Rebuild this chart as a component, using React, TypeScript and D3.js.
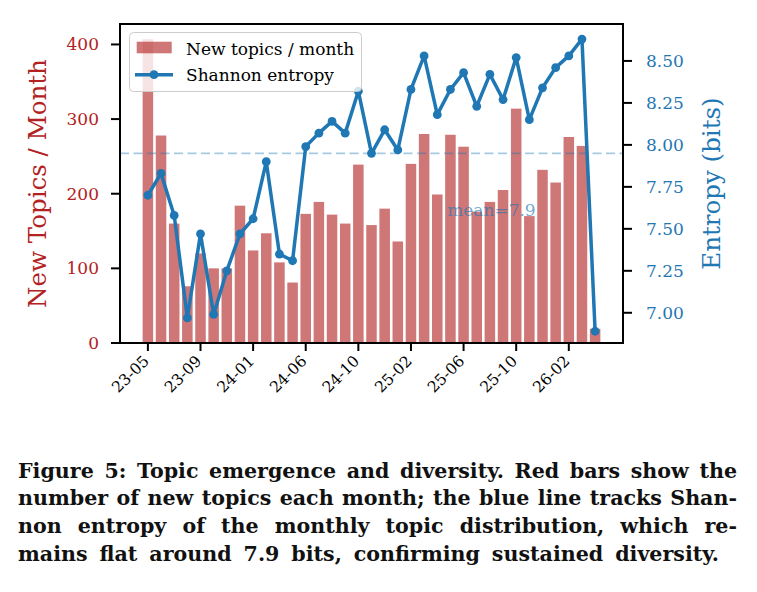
import * as d3 from "d3";
import { useLayoutEffect, useRef, useState } from "react";

// monthly buckets (one month without data between 24-04 and 24-06)
const MONTHS = [
  "23-05", "23-06", "23-07", "23-08", "23-09", "23-10", "23-11", "23-12",
  "24-01", "24-02", "24-03", "24-04", "24-06", "24-07", "24-08", "24-09",
  "24-10", "24-11", "24-12", "25-01", "25-02", "25-03", "25-04", "25-05",
  "25-06", "25-07", "25-08", "25-09", "25-10", "25-11", "25-12", "26-01",
  "26-02", "26-03", "26-04",
];

const NEW_TOPICS = [
  407, 278, 160, 76, 120, 100, 100, 184, 124, 147, 108, 81, 173, 189, 172, 160,
  239, 158, 180, 136, 240, 280, 199, 279, 263, 176, 189, 205, 314, 170, 232, 215,
  276, 264, 19,
];

const ENTROPY = [
  7.7, 7.83, 7.58, 6.97, 7.47, 6.99, 7.25, 7.47, 7.56, 7.9, 7.35, 7.31, 7.99,
  8.07, 8.14, 8.07, 8.32, 7.95, 8.09, 7.97, 8.33, 8.53, 8.18, 8.33, 8.43, 8.23,
  8.42, 8.27, 8.52, 8.15, 8.34, 8.46, 8.53, 8.63, 6.89,
];

const TOPIC_TICKS = [0, 100, 200, 300, 400];
const ENTROPY_TICKS = [7.0, 7.25, 7.5, 7.75, 8.0, 8.25, 8.5];

const CAPTION_LINES = [
  "Figure 5: Topic emergence and diversity. Red bars show the",
  "number of new topics each month; the blue line tracks Shan-",
  "non entropy of the monthly topic distribution, which re-",
  "mains flat around 7.9 bits, confirming sustained diversity.",
];
const CAPTION_WIDTHS = [719, 719, 719, 701];

const W = 757;
const H = 592;
const PLOT = { left: 120, right: 623, top: 24, bottom: 343 };
const RED = "#b22222";
const BLUE = "#1f77b4";
const FONT = "'DejaVu Serif', serif";

function Caption() {
  const refs = useRef<(SVGTextElement | null)[]>([]);
  const [spacing, setSpacing] = useState<number[]>(CAPTION_LINES.map(() => 0));

  useLayoutEffect(() => {
    // stretch word gaps so each line fills its width (justified text)
    const next = CAPTION_LINES.map((line, i) => {
      const el = refs.current[i];
      if (!el) return 0;
      const gaps = line.split(" ").length - 1;
      return gaps > 0 ? (CAPTION_WIDTHS[i] - el.getComputedTextLength()) / gaps : 0;
    });
    setSpacing(next);
  }, []);

  return (
    <g fontFamily={FONT} fontWeight={700} fontSize={20.6} fill="#111">
      {CAPTION_LINES.map((line, i) => (
        <text
          key={i}
          ref={(el) => {
            refs.current[i] = el;
          }}
          x={18}
          y={477.5 + i * 27.7}
          style={{ wordSpacing: `${spacing[i]}px` }}
        >
          {line}
        </text>
      ))}
    </g>
  );
}

export default function App() {
  const x = d3.scaleLinear().domain([-2.12, 36.12]).range([PLOT.left, PLOT.right]);
  const yTopics = d3.scaleLinear().domain([0, 427.4]).range([PLOT.bottom, PLOT.top]);
  const yEntropy = d3.scaleLinear().domain([6.82, 8.72]).range([PLOT.bottom, PLOT.top]);

  const barW = x(0.8) - x(0);
  const meanEntropy = d3.mean(ENTROPY) ?? 0;

  const line = d3
    .line<number>()
    .x((_, i) => x(i))
    .y((d) => yEntropy(d));

  const xTicks = MONTHS.map((m, i) => ({ m, i })).filter(({ i }) => i % 4 === 0);

  return (
    <svg
      width={W}
      height={H}
      style={{ position: "absolute", left: 0, top: 0, background: "#fff" }}
      fontFamily={FONT}
    >
      <rect width={W} height={H} fill="#fff" />

      {/* bars: new topics per month */}
      <g fill={RED} fillOpacity={0.62}>
        {NEW_TOPICS.map((v, i) => (
          <rect
            key={MONTHS[i]}
            x={x(i) - barW / 2}
            y={yTopics(v)}
            width={barW}
            height={yTopics(0) - yTopics(v)}
          />
        ))}
      </g>

      {/* mean entropy reference */}
      <line
        x1={PLOT.left}
        x2={PLOT.right}
        y1={yEntropy(meanEntropy)}
        y2={yEntropy(meanEntropy)}
        stroke={BLUE}
        strokeOpacity={0.4}
        strokeWidth={1.6}
        strokeDasharray="9,4.5"
      />
      <text
        x={x(MONTHS.length * 0.65)}
        y={yEntropy(meanEntropy - 0.37)}
        fontSize={17}
        fill={BLUE}
        fillOpacity={0.65}
      >
        {`mean=${d3.format(".1f")(meanEntropy)}`}
      </text>

      {/* entropy line */}
      <path d={line(ENTROPY) ?? ""} fill="none" stroke={BLUE} strokeWidth={3.5} strokeLinejoin="round" />
      <g fill={BLUE}>
        {ENTROPY.map((v, i) => (
          <circle key={MONTHS[i]} cx={x(i)} cy={yEntropy(v)} r={4.4} />
        ))}
      </g>

      {/* frame */}
      <rect
        x={PLOT.left}
        y={PLOT.top}
        width={PLOT.right - PLOT.left}
        height={PLOT.bottom - PLOT.top}
        fill="none"
        stroke="#000"
        strokeWidth={2}
      />

      {/* left axis */}
      <g>
        {TOPIC_TICKS.map((t) => (
          <g key={t} transform={`translate(0,${yTopics(t)})`}>
            <line x1={PLOT.left - 9} x2={PLOT.left} stroke="#000" strokeWidth={2} />
            <text x={PLOT.left - 21} textAnchor="end" dominantBaseline="central" fontSize={17} fill={RED}>
              {t}
            </text>
          </g>
        ))}
        <text
          transform={`translate(37,${(PLOT.top + PLOT.bottom) / 2}) rotate(-90)`}
          textAnchor="middle"
          dominantBaseline="central"
          fontSize={24.5}
          fill={RED}
        >
          New Topics / Month
        </text>
      </g>

      {/* right axis */}
      <g>
        {ENTROPY_TICKS.map((t) => (
          <g key={t} transform={`translate(0,${yEntropy(t)})`}>
            <line x1={PLOT.right} x2={PLOT.right + 9} stroke="#000" strokeWidth={2} />
            <text x={PLOT.right + 23} dominantBaseline="central" fontSize={17} fill={BLUE}>
              {d3.format(".2f")(t)}
            </text>
          </g>
        ))}
        <text
          transform={`translate(711,${(PLOT.top + PLOT.bottom) / 2}) rotate(-90)`}
          textAnchor="middle"
          dominantBaseline="central"
          fontSize={24.5}
          fill={BLUE}
        >
          Entropy (bits)
        </text>
      </g>

      {/* bottom axis */}
      <g>
        {xTicks.map(({ m, i }) => (
          <g key={m}>
            <line x1={x(i)} x2={x(i)} y1={PLOT.bottom} y2={PLOT.bottom + 8} stroke="#000" strokeWidth={2} />
            <text
              transform={`translate(${x(i) + 2},${PLOT.bottom + 19}) rotate(-45)`}
              textAnchor="end"
              fontSize={15.5}
              fill="#000"
            >
              {m}
            </text>
          </g>
        ))}
      </g>

      {/* legend */}
      <g>
        <rect x={129.5} y={32.5} width={232} height={59} rx={4} fill="#fff" fillOpacity={0.8} stroke="#cccccc" />
        <rect x={136.7} y={41.7} width={35} height={11.6} fill={RED} fillOpacity={0.62} />
        <text x={186} y={54.5} fontSize={17} fill="#000">
          New topics / month
        </text>
        <line x1={135} x2={173} y1={74.7} y2={74.7} stroke={BLUE} strokeWidth={3.5} />
        <circle cx={154} cy={74.7} r={4.4} fill={BLUE} />
        <text x={186} y={81.3} fontSize={17} fill="#000">
          Shannon entropy
        </text>
      </g>

      <Caption />
    </svg>
  );
}
